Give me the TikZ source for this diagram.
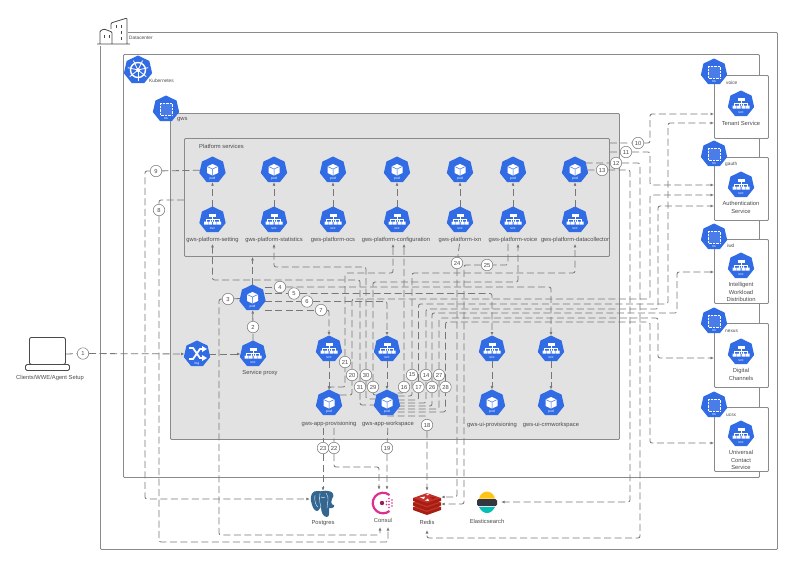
\documentclass[tikz,border=0pt]{standalone}
\usepackage{fontspec}
\setmainfont{Liberation Sans}
\usepackage{tikz}
\usetikzlibrary{shapes.geometric,arrows.meta,backgrounds}

\definecolor{kblue}{HTML}{326CE5}
\definecolor{wire}{HTML}{777777}
\definecolor{edge}{HTML}{8A8A8A}
\definecolor{inkgray}{HTML}{4A4A4A}
\definecolor{panelgray}{HTML}{E2E2E2}
\definecolor{pgblue}{HTML}{336791}
\definecolor{consulpink}{HTML}{DC2F8F}
\definecolor{consuldark}{HTML}{961D5E}
\definecolor{redisred}{HTML}{C6302B}
\definecolor{redisdark}{HTML}{A41E11}
\definecolor{elasticyellow}{HTML}{FEC514}
\definecolor{elasticdark}{HTML}{343741}
\definecolor{elasticteal}{HTML}{00BFB3}

\tikzset{
    kube/.style={regular polygon, regular polygon sides=7, fill=kblue, minimum size=27, inner sep=0, outer sep=0},
    tiny/.style={text=white, font=\fontsize{3.4}{4}\selectfont, inner sep=0},
    lbl/.style={text=inkgray, font=\fontsize{5.8}{7.2}\selectfont, inner sep=1, align=center},
    small/.style={text=inkgray, font=\fontsize{4.8}{5.5}\selectfont, inner sep=0},
    badge/.style={circle, draw=wire, fill=white, line width=0.5, minimum size=11.5, inner sep=0, text=inkgray, font=\fontsize{5.8}{6}\selectfont},
    panel/.style={draw=edge, line width=0.9, rounded corners=1, anchor=north west, inner sep=0},
    logo/.style={inner sep=0, minimum width=#1, minimum height=26},
    link/.style={draw=wire, line width=0.8, dash pattern=on 7 off 3.5, rounded corners=2},
    flow/.style={link, -{Latex[length=3.5,width=3]}},
}

\newcommand{\kpod}[2]{
    \node[kube] (#1) at (#2) {};
    \begin{scope}[shift={(#2)}]
        \fill[white] (0,-6) -- (5.5,-3.5) -- (5.5,3) -- (0,5.5) -- (-5.5,3) -- (-5.5,-3.5) -- cycle;
        \draw[kblue, line width=0.5] (-5.5,-3.5) -- (0,-1) -- (5.5,-3.5) (0,-1) -- (0,5.5);
        \node[tiny] (#1t) at (0,9) {pod};
    \end{scope}
}
\newcommand{\ksvc}[2]{
    \node[kube] (#1) at (#2) {};
    \begin{scope}[shift={(#2)}]
        \fill[white] (-3.5,-6.5) rectangle (3.5,-3.5);
        \draw[white, line width=0.5] (0,-3.5) -- (0,1.5) (-6.5,1.5) -- (-6.5,-1) -- (6.5,-1) -- (6.5,1.5) (-2.2,-1) -- (-2.2,1.5) (2.2,-1) -- (2.2,1.5);
        \fill[white] (-8.5,1.5) rectangle (-4.5,4.5) (-4,1.5) rectangle (-0.5,4.5) (0.5,1.5) rectangle (4,4.5) (4.5,1.5) rectangle (8.5,4.5);
        \node[tiny] (#1t) at (0,9) {svc};
    \end{scope}
}
\newcommand{\kns}[2]{
    \node[kube] (#1) at (#2) {};
    \begin{scope}[shift={(#2)}]
        \draw[white, line width=0.4, densely dotted, fill=white, fill opacity=0.12] (-6,-6) rectangle (6,6);
        \node[tiny] (#1t) at (0,9.5) {ns};
    \end{scope}
}

\begin{document}
\begin{tikzpicture}[x=1pt, y=-1pt]
    \useasboundingbox (0,0) rectangle (800,566);

    \begin{scope}[on background layer]
        \node[panel, fill=white, minimum width=677, minimum height=517] (dcbox) at (100,32) {};
        \node[panel, fill=white, minimum width=636, minimum height=423] (k8sbox) at (123,54) {};
        \node[panel, fill=panelgray, minimum width=449, minimum height=326] (gwsbox) at (170,113) {};
        \node[panel, fill=panelgray, minimum width=425, minimum height=118] (platbox) at (184,138) {};
        \node[panel, fill=white, minimum width=54, minimum height=63] (boxvoice) at (714,75) {};
        \node[panel, fill=white, minimum width=54, minimum height=63] (boxgauth) at (714,157) {};
        \node[panel, fill=white, minimum width=54, minimum height=64] (boxiwd) at (714,239) {};
        \node[panel, fill=white, minimum width=54, minimum height=64] (boxnexus) at (714,323) {};
        \node[panel, fill=white, minimum width=54, minimum height=64] (boxucsx) at (714,407) {};
    \end{scope}

    % datacenter and kubernetes
    \fill[white] (96,15) rectangle (128,45.5);
    \draw[inkgray, line width=0.8, rounded corners=1] (97,44) -- (130,44)
        (100,44) -- (100,31) -- (104,29) -- (112,32) -- (112,44)
        (111,29) -- (111,23) -- (127,18) -- (127,44);
    \draw[inkgray, line width=0.7] (104,35) -- (104,38) (109,35) -- (109,38) (116,25) -- (116,28) (121,25) -- (121,28) (121,31) -- (121,34) (121,37) -- (121,40);
    \node[small, anchor=west] (dclabel) at (129,38) {Datacenter};
    \node[kube, minimum size=29] (k8s) at (138,70) {};
    \begin{scope}[shift={(138,70)}]
        \draw[white, line width=1.4] (0,0) circle (7.5);
        \fill[white] (0,0) circle (2);
        \foreach \a in {90,141,193,244,296,347,39} {
            \draw[white, line width=0.8] (0,0) -- (\a:10.5);
        }
    \end{scope}
    \node[small, anchor=west] (k8slabel) at (149,81) {Kubernetes};
    \kns{nsgws}{166,109}
    \node[lbl, anchor=west] (gwslabel) at (176,120) {gws};
    \node[lbl, anchor=west] (platlabel) at (198,146) {Platform services};

    % platform services
    \kpod{podsetting}{212.5,170}
    \ksvc{svcsetting}{212.5,220}
    \node[lbl] (lblsetting) at (212.5,240) {gws-platform-setting};
    \kpod{podstats}{274,170}
    \ksvc{svcstats}{274,220}
    \node[lbl] (lblstats) at (274,240) {gws-platform-statistics};
    \kpod{podocs}{333,170}
    \ksvc{svcocs}{333,220}
    \node[lbl] (lblocs) at (333,240) {gws-platform-ocs};
    \kpod{podconfig}{397,170}
    \ksvc{svcconfig}{397,220}
    \node[lbl] (lblconfig) at (396,240) {gws-platform-configuration};
    \kpod{podixn}{460,170}
    \ksvc{svcixn}{460,220}
    \node[lbl] (lblixn) at (460,240) {gws-platform-ixn};
    \kpod{podvoice}{513,170}
    \ksvc{svcvoice}{513,220}
    \node[lbl] (lblvoice) at (513,240) {gws-platform-voice};
    \kpod{podcollect}{575,170}
    \ksvc{svccollect}{575,220}
    \node[lbl] (lblcollect) at (575,240) {gws-platform-datacollector};

    % gws
    \node[kube] (ingress) at (197,354) {};
    \begin{scope}[shift={(197,354)}]
        \draw[white, line width=1.8] (-8,-6) -- (-4,-6) -- (3,4) -- (6,4) (-8,5) -- (-4,5) -- (3,-5) -- (6,-5);
        \fill[white] (5,-8) -- (10,-5) -- (5,-2) -- cycle (5,1) -- (10,4) -- (5,7) -- cycle;
        \node[tiny] (ingresst) at (0,9.5) {ing};
    \end{scope}
    \ksvc{svcproxy}{253,354}
    \node[lbl] (lblproxy) at (260,373) {Service proxy};
    \kpod{podproxy}{252.5,298}
    \ksvc{svcprov}{329,349}
    \kpod{podprov}{329,403}
    \node[lbl] (lblprov) at (329,424) {gws-app-provisioning};
    \ksvc{svcwork}{387,349}
    \kpod{podwork}{387,403}
    \node[lbl] (lblwork) at (388,424) {gws-app-workspace};
    \ksvc{svcuiprov}{492,349}
    \kpod{poduiprov}{492,403}
    \node[lbl] (lbluiprov) at (492,425) {gws-ui-provisioning};
    \ksvc{svccrm}{551,349}
    \kpod{podcrm}{551,403}
    \node[lbl] (lblcrm) at (551,425) {gws-ui-crmworkspace};

    % namespaces on the right
    \kns{nsvoice}{714,72}
    \node[small, anchor=west] (lblnsvoice) at (726,83) {voice};
    \ksvc{svctenant}{741,104}
    \node[lbl] (lbltenant) at (741,123) {Tenant Service};
    \kns{nsgauth}{714,154}
    \node[small, anchor=west] (lblnsgauth) at (725,164) {gauth};
    \ksvc{svcauth}{741,185}
    \node[lbl] (lblauth) at (741,207.5) {Authentication\\Service};
    \kns{nsiwd}{714,237}
    \node[small, anchor=west] (lblnsiwd) at (727,246) {iwd};
    \ksvc{svciwd}{741,266}
    \node[lbl] (lbliwd) at (741,292) {Intelligent\\Workload\\Distribution};
    \kns{nsnexus}{714,321}
    \node[small, anchor=west] (lblnsnexus) at (725,331) {nexus};
    \ksvc{svcnexus}{741,352}
    \node[lbl] (lblnexus) at (741,374.5) {Digital\\Channels};
    \kns{nsucsx}{714,405}
    \node[small, anchor=west] (lblnsucsx) at (726,415) {ucsx};
    \ksvc{svcucsx}{741,434}
    \node[lbl] (lblucsx) at (741,460) {Universal\\Contact\\Service};

    % clients
    \node[draw=inkgray, line width=0.9, rounded corners=2, anchor=north west, minimum width=36, minimum height=27, inner sep=0] (laptop) at (29,337) {};
    \node[draw=inkgray, fill=white, line width=0.9, rounded corners=1.5, anchor=north west, minimum width=44, minimum height=6, inner sep=0] (laptopbase) at (25,364) {};
    \node[lbl] (lbllaptop) at (50,378) {Clients/WWE/Agent Setup};

    % stores
    \node[logo=26] (postgres) at (323,504) {};
    \begin{scope}[shift={(323,504)}]
        \fill[pgblue] (-5,-13) .. controls (-11,-14) and (-13,-8) .. (-12,-3) .. controls (-11,2) and (-9,7) .. (-6,7)
            .. controls (-4,7) and (-3,3) .. (-2,3) .. controls (-2,8) and (0,13) .. (4,13) .. controls (7,13) and (6,6) .. (6,4)
            .. controls (9,5) and (12,3) .. (11,1) .. controls (8,1) and (8,-2) .. (9,-5) .. controls (12,-9) and (10,-13) .. (5,-13)
            .. controls (2,-14) and (-2,-12) .. (-5,-13) -- cycle;
        \draw[white, line width=0.35] (-8,-9) .. controls (-9,-3) and (-7,2) .. (-5,3) (-3,-11) .. controls (-4,-4) and (-3,0) .. (-2,3)
            (3,-11) .. controls (7,-6) and (4,-2) .. (4,4) (-2,-7) .. controls (0,-6) and (1,-6) .. (2,-7);
    \end{scope}
    \node[lbl] (lblpostgres) at (323,523) {Postgres};
    \node[logo=24] (consul) at (383,503) {};
    \begin{scope}[shift={(383,503)}]
        \draw[consulpink, line width=2.2] (6.5,-8) arc (-51:-309:10.3);
        \fill[consuldark] (-1,0) circle (2.2);
        \foreach \p in {(3.5,-1.5),(3.5,1.5),(6,-4.5),(6,-1.5),(6,1.5),(6,4.5),(9,-3),(9,0),(9,3)} {
            \fill[consulpink] \p circle (0.9);
        }
    \end{scope}
    \node[lbl] (lblconsul) at (383,520) {Consul};
    \node[logo=28] (redis) at (427,504) {};
    \begin{scope}[shift={(427,504)}]
        \foreach \o in {3,-1.5,-6} {
            \fill[redisdark] (-14,\o) -- (-14,\o+3) -- (0,\o+8) -- (14,\o+3) -- (14,\o) -- cycle;
            \fill[redisred] (-14,\o) -- (0,\o-5) -- (14,\o) -- (0,\o+5) -- cycle;
        }
        \fill[white] (-7,-6.5) -- (-2,-7.5) -- (-3,-5) -- cycle (-1,-10) -- (2,-10.5) -- (1,-8.5) -- cycle (-2,-3.5) -- (1,-5.5) -- (2,-3) -- cycle;
        \fill[redisdark] (3,-7) -- (9,-7) -- (6,-4.5) -- cycle;
    \end{scope}
    \node[lbl] (lblredis) at (427,522) {Redis};
    \node[logo=28] (elastic) at (487,502) {};
    \begin{scope}[shift={(487,502)}]
        \fill[elasticyellow] (-8,-3.5) .. controls (-7,-8) and (-3,-10.5) .. (0,-10.5) .. controls (3,-10.5) and (7,-8) .. (8,-3.5) -- cycle;
        \fill[elasticdark, rounded corners=1.5] (-10,-3) rectangle (10,4);
        \fill[elasticteal] (-8,5) .. controls (-6,9) and (-3,11) .. (0,11) .. controls (3,11) and (6,9) .. (8,5) -- cycle;
    \end{scope}
    \node[lbl] (lblelastic) at (487,521) {Elasticsearch};

    % numbers
    \node[badge] (n1) at (83,353.5) {1};
    \node[badge] (n2) at (253,327) {2};
    \node[badge] (n3) at (228,299) {3};
    \node[badge] (n4) at (280,287) {4};
    \node[badge] (n5) at (294,293.5) {5};
    \node[badge] (n6) at (307,301.5) {6};
    \node[badge] (n7) at (321,310) {7};
    \node[badge] (n8) at (159,210) {8};
    \node[badge] (n9) at (156,171) {9};
    \node[badge] (n10) at (638,143) {10};
    \node[badge] (n11) at (626,152) {11};
    \node[badge] (n12) at (616,163) {12};
    \node[badge] (n13) at (602,170) {13};
    \node[badge] (n14) at (426,375) {14};
    \node[badge] (n15) at (412,375) {15};
    \node[badge] (n16) at (404,387) {16};
    \node[badge] (n17) at (418.5,387) {17};
    \node[badge] (n18) at (427,425) {18};
    \node[badge] (n19) at (387,448) {19};
    \node[badge] (n20) at (352,375) {20};
    \node[badge] (n21) at (345,362) {21};
    \node[badge] (n22) at (334,448) {22};
    \node[badge] (n23) at (323,448) {23};
    \node[badge] (n24) at (457,263) {24};
    \node[badge] (n25) at (487,265) {25};
    \node[badge] (n26) at (432,387) {26};
    \node[badge] (n27) at (439,375) {27};
    \node[badge] (n28) at (445.5,387) {28};
    \node[badge] (n29) at (373,387) {29};
    \node[badge] (n30) at (366,375) {30};
    \node[badge] (n31) at (360,387) {31};

    \coordinate (consulin1) at (380,527);
    \coordinate (consulin2) at (388,527);
    \coordinate (redisin) at (427,530);

    \begin{scope}[on background layer]
        % svc to pod
        \draw[flow] (svcsetting) -- (podsetting);
        \draw[flow] (svcstats) -- (podstats);
        \draw[flow] (svcocs) -- (podocs);
        \draw[flow] (svcconfig) -- (podconfig);
        \draw[flow] (svcixn) -- (podixn);
        \draw[flow] (svcvoice) -- (podvoice);
        \draw[flow] (svccollect) -- (podcollect);
        \draw[flow] (svcprov) -- (podprov);
        \draw[flow] (svcwork) -- (podwork);
        \draw[flow] (svcuiprov) -- (poduiprov);
        \draw[flow] (svccrm) -- (podcrm);

        % entry and proxy
        \draw[flow] (laptop.east |- ingress) -- (n1) -- (ingress);
        \draw[flow] (ingress) -- (svcproxy);
        \draw[flow] (svcproxy) -- (n2) -- (podproxy);
        \draw[flow] (podproxy) -- (podproxy |- platbox.south);
        \draw[flow] (podproxy) -- (n3) -- (219,299) -- (219,535) -| (consulin1);
        \draw[link] (podproxy.east |- n4) -- (n4);
        \draw[flow] (n4) -| (svccrm);
        \draw[link] (podproxy.east |- n5) -- (n5);
        \draw[flow] (n5) -| (svcuiprov);
        \draw[link] (podproxy.east |- n6) -- (n6);
        \draw[flow] (n6) -| (svcwork);
        \draw[link] (podproxy.east |- n7) -- (n7);
        \draw[flow] (n7) -| (svcprov);

        % left side
        \draw[flow] (platbox.west |- 0,200) -| (n8) -- (159,542) -| (consulin2);
        \draw[flow] (podsetting) -- (n9) -- (145,171) -- (145,499) -- (postgres.west |- 0,499);

        % right side
        \draw[flow] (platbox.east |- n10) -- (n10) -- (650,143) |- (boxvoice.west |- 0,114);
        \draw[flow] (platbox.east |- n11) -- (n11) -- (650,152) |- (boxgauth.west |- 0,185);
        \draw[flow] (podcollect |- n12) -- (n12) -- (640,163) -- (640,538) -| (redisin);
        \draw[flow] (podcollect) -- (n13) -- (630,170) -- (630,502) -- (elastic.east);

        % provisioning pod
        \draw[flow] (podprov) |- (345,387) -- (n21) -- (345,273) -| (lblconfig.south -| 393,0);
        \draw[flow] (podprov |- 0,395) -| (n20) |- (650,299) |- (boxgauth.west |- 0,195);
        \draw[flow] (lblprov.south -| n22) -- (n22) |- (379,467) -- (consul.north -| 379,0);
        \draw[flow] (lblprov.south -| n23) -- (n23) -- (postgres);

        % workspace pod
        \draw[flow] (podwork |- 0,405) -| (n31) |- (212.5,280) -- (lblsetting.south);
        \draw[flow] (podwork |- 0,399) -| (n30) |- (274,267) -- (lblstats.south);
        \draw[flow] (podwork |- 0,395) -| (n29) |- (518,282) -- (lblvoice.south -| 518,0);
        \draw[flow] (podwork |- 0,393) -| (n16) -- (lblconfig.south -| n16);
        \draw[flow] (podwork |- 0,396) -| (n15) |- (575,273) -- (lblcollect.south);
        \draw[flow] (podwork |- 0,400) -| (n17) |- (668,304) |- (boxvoice.west |- 0,123);
        \draw[flow] (podwork |- 0,403) -| (n14) |- (658,309) |- (boxgauth.west |- 0,206);
        \draw[flow] (podwork |- 0,406) -| (n26) |- (677,313) |- (boxiwd.west |- 0,272);
        \draw[flow] (podwork |- 0,409) -| (n27) |- (658,318) |- (boxnexus.west |- 0,358);
        \draw[flow] (podwork |- 0,412) -| (n28) |- (650,322) |- (boxucsx.west |- 0,443);
        \draw[flow] (podwork |- 0,416) -| (n18) -- (redis);
        \draw[flow] (lblwork) -- (n19) -- (consul.north -| n19);

        % platform pods to redis
        \draw[flow] (lblixn) -- (n24) |- (redis.east |- 0,497);
        \draw[flow] (lblvoice.south -| 508,0) |- (n25) -- (464,265) -- (464,504) -- (redis.east |- 0,504);
    \end{scope}
\end{tikzpicture}
\end{document}
